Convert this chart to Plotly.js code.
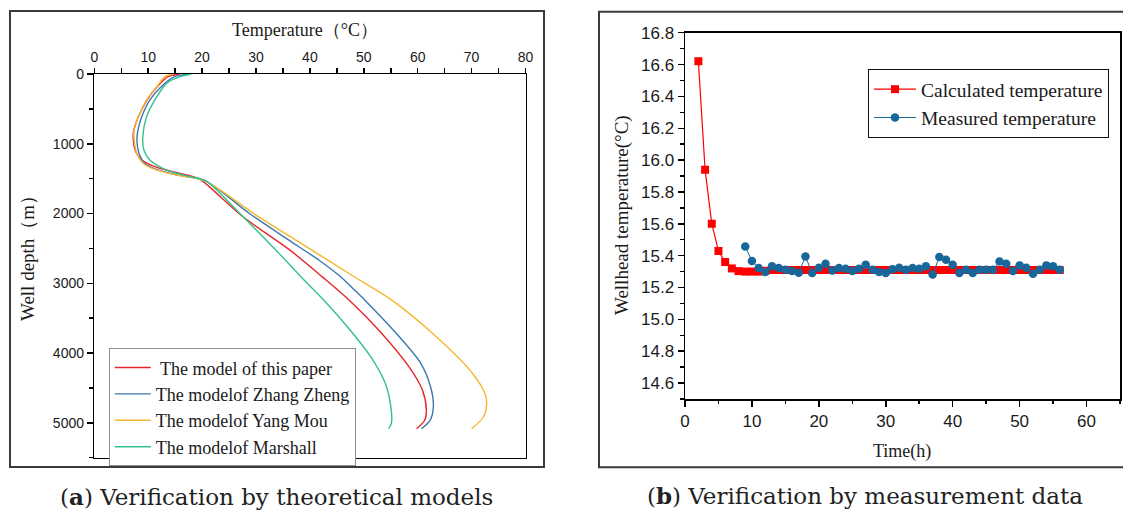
<!DOCTYPE html>
<html>
<head>
<meta charset="utf-8">
<script src="https://cdn.plot.ly/plotly-3.0.1.min.js"></script>
<style>
  html, body { margin: 0; padding: 0; background: #ffffff; }
  #chart { width: 1123px; height: 510px; }
</style>
</head>
<body>
<div id="chart"></div>
<script>
// ---- (a) wellbore temperature profiles, four models ----
const depthPaper = [0, 40, 180, 370, 610, 800, 900, 1115, 1234, 1339, 1425, 1497, 1607, 2047, 2525, 2908, 3242, 3673, 4199, 4534, 4821, 4964, 5084];
const tempPaper  = [15.8, 13.6, 11.7, 9.8, 8.2, 7.35, 7.2, 7.7, 8.8, 11.6, 15.9, 19.3, 21.2, 27.6, 36.3, 42.3, 47.3, 52.8, 58.4, 60.9, 61.6, 61.3, 59.8];

const depthZhang = [0, 38, 182, 373, 612, 803, 947, 1138, 1282, 1377, 1449, 1531, 2000, 2382, 2669, 2900, 3099, 3242, 3673, 4150, 4486, 4773, 4964, 5084];
const tempZhang  = [17.6, 14.9, 12.4, 10.3, 8.8, 8.1, 7.9, 8.3, 9.4, 11.9, 15.5, 20.6, 28.8, 36.1, 41.7, 45.6, 48.3, 50.2, 55.5, 60.6, 62.4, 62.9, 62.3, 60.7];

const depthYang = [0, 38, 182, 373, 612, 803, 947, 1138, 1282, 1377, 1449, 1531, 2022, 2478, 2895, 3242, 3769, 4247, 4582, 4725, 4917, 5084];
const tempYang  = [14.5, 13.1, 11.6, 9.7, 8.2, 7.4, 7.4, 7.9, 9.1, 11.6, 15.3, 20.5, 30.0, 39.4, 48.0, 55.2, 63.5, 69.7, 72.5, 72.8, 72.2, 70.0];

const depthMarshall = [0, 38, 134, 326, 612, 900, 1090, 1234, 1377, 1473, 1531, 2047, 2500, 3000, 3242, 3673, 4056, 4438, 4821, 5012, 5084];
const tempMarshall  = [18.0, 15.9, 13.4, 11.6, 9.7, 9.0, 9.2, 10.3, 13.4, 17.8, 20.7, 27.6, 33.4, 39.5, 42.6, 47.5, 51.3, 54.0, 55.1, 55.1, 54.6];

const depthTicks = [0, 1000, 2000, 3000, 4000, 5000];
const tempTicks  = [0, 10, 20, 30, 40, 50, 60, 70, 80];

// ---- (b) wellhead temperature over time ----
const calcTime = [2, 3, 4, 5, 6, 7, 8, 9, 10, 11, 12, 13, 14, 15, 16, 17, 18, 19, 20, 21, 22, 23, 24, 25, 26, 27, 28, 29, 30, 31, 32, 33, 34, 35, 36, 37, 38, 39, 40, 41, 42, 43, 44, 45, 46, 47, 48, 49, 50, 51, 52, 53, 54, 55, 56];
const calcTemp = [16.62, 15.94, 15.60, 15.43, 15.36, 15.32, 15.303, 15.30, 15.30, 15.30, 15.305, 15.31, 15.31, 15.31, 15.31, 15.31, 15.31, 15.31, 15.31, 15.31, 15.31, 15.31, 15.31, 15.31, 15.31, 15.31, 15.31, 15.31, 15.31, 15.31, 15.31, 15.31, 15.31, 15.31, 15.31, 15.31, 15.31, 15.31, 15.31, 15.31, 15.31, 15.31, 15.31, 15.31, 15.31, 15.31, 15.31, 15.31, 15.31, 15.31, 15.31, 15.31, 15.31, 15.31, 15.31];

const measTime = [9, 10, 11, 12, 13, 14, 15, 16, 17, 18, 19, 20, 21, 22, 23, 24, 25, 26, 27, 28, 29, 30, 31, 32, 33, 34, 35, 36, 37, 38, 39, 40, 41, 42, 43, 44, 45, 46, 47, 48, 49, 50, 51, 52, 53, 54, 55, 56];
const measTemp = [15.458, 15.366, 15.322, 15.297, 15.333, 15.322, 15.312, 15.303, 15.293, 15.395, 15.291, 15.324, 15.349, 15.307, 15.322, 15.318, 15.303, 15.318, 15.343, 15.312, 15.297, 15.291, 15.314, 15.324, 15.312, 15.322, 15.318, 15.333, 15.282, 15.391, 15.374, 15.343, 15.291, 15.312, 15.291, 15.312, 15.312, 15.312, 15.364, 15.349, 15.303, 15.339, 15.324, 15.286, 15.312, 15.339, 15.333, 15.312];

// page size and pixel -> paper helpers
const W = 1123, H = 510;
const px = v => v / W;
const py = v => 1 - v / H;

const serif = 'Liberation Serif, Times New Roman, serif';
const sans = 'Liberation Sans, Arial, sans-serif';
const ink = '#1a1a1a';

function profile(name, t, d, color) {
  return {
    type: 'scatter', mode: 'lines', name: name,
    x: t, y: d, xaxis: 'x', yaxis: 'y', legend: 'legend',
    line: { color: color, width: 1.4, shape: 'spline', smoothing: 0.8 },
    hoverinfo: 'x+y'
  };
}

const traces = [
  profile(' The model of this paper', tempPaper, depthPaper, '#e8262b'),
  profile('The modelof Zhang Zheng', tempZhang, depthZhang, '#3c78ad'),
  profile('The modelof Yang Mou', tempYang, depthYang, '#f5b731'),
  profile('The modelof Marshall', tempMarshall, depthMarshall, '#33c18d'),
  {
    type: 'scatter', mode: 'lines+markers', name: 'Calculated temperature',
    x: calcTime, y: calcTemp, xaxis: 'x2', yaxis: 'y2', legend: 'legend2',
    line: { color: '#ff0000', width: 1.2 },
    marker: { symbol: 'square', size: 8, color: '#ff0000', line: { width: 0 } }
  },
  {
    type: 'scatter', mode: 'lines+markers', name: 'Measured temperature',
    x: measTime, y: measTemp, xaxis: 'x2', yaxis: 'y2', legend: 'legend2',
    line: { color: '#17679b', width: 1 },
    marker: { symbol: 'circle', size: 8.5, color: '#17679b', line: { width: 0 } }
  }
];

const axisBase = {
  showline: true, mirror: true, linecolor: '#000', linewidth: 1.5,
  showgrid: false, zeroline: false, fixedrange: true
};

const layout = {
  width: W, height: H,
  margin: { l: 0, r: 0, t: 0, b: 0 },
  paper_bgcolor: '#ffffff', plot_bgcolor: '#ffffff',
  showlegend: true,
  xaxis: Object.assign({}, axisBase, {
    domain: [px(94.3), px(525.5)], range: [0, 80], side: 'top', anchor: 'y',
    tickmode: 'array', tickvals: tempTicks,
    ticks: 'outside', ticklen: 5, tickcolor: 'rgba(0,0,0,0)',
    minor: { ticks: 'outside', dtick: 5, ticklen: 5, tickwidth: 1.5, tickcolor: '#000', showgrid: false },
    tickfont: { family: sans, size: 14, color: ink }
  }),
  yaxis: Object.assign({}, axisBase, {
    domain: [py(457.7), py(74)], range: [5500, 0], anchor: 'x',
    tickmode: 'array', tickvals: depthTicks,
    ticks: 'outside', ticklen: 6, tickwidth: 1.5, tickcolor: '#000',
    minor: { ticks: 'outside', dtick: 500, ticklen: 4, tickwidth: 1.5, tickcolor: '#000', showgrid: false },
    tickfont: { family: sans, size: 14, color: ink }
  }),
  xaxis2: Object.assign({}, axisBase, {
    domain: [px(685), px(1120)], range: [0, 65], anchor: 'y2',
    tickmode: 'linear', tick0: 0, dtick: 10,
    ticks: 'outside', ticklen: 6, tickwidth: 1.5, tickcolor: '#000',
    minor: { ticks: 'outside', dtick: 5, ticklen: 3.5, tickwidth: 1.5, tickcolor: '#000', showgrid: false },
    tickfont: { family: sans, size: 17, color: ink }
  }),
  yaxis2: Object.assign({}, axisBase, {
    domain: [py(399), py(32.7)], range: [14.5, 16.8], anchor: 'x2',
    tickmode: 'linear', tick0: 0, dtick: 0.2, tickformat: '.1f',
    ticks: 'outside', ticklen: 6, tickwidth: 1.5, tickcolor: '#000',
    minor: { ticks: 'outside', dtick: 0.1, ticklen: 3.5, tickwidth: 1.5, tickcolor: '#000', showgrid: false },
    tickfont: { family: sans, size: 17, color: ink }
  }),
  legend: {
    x: px(108.8), y: py(348.3), xanchor: 'left', yanchor: 'top',
    bgcolor: '#ffffff', bordercolor: '#8f8f8f', borderwidth: 1,
    font: { family: serif, size: 18, color: ink },
    itemwidth: 36, tracegroupgap: 0
  },
  legend2: {
    x: px(868), y: py(69), xanchor: 'left', yanchor: 'top',
    bgcolor: '#ffffff', bordercolor: '#111', borderwidth: 1,
    font: { family: serif, size: 19.5, color: ink },
    itemwidth: 42, tracegroupgap: 0
  },
  shapes: [
    // panel frames
    { type: 'rect', xref: 'paper', yref: 'paper', x0: px(10), x1: px(544), y0: py(467), y1: py(11),
      line: { color: '#3a3a3a', width: 2 } },
    { type: 'rect', xref: 'paper', yref: 'paper', x0: px(599), x1: px(1125), y0: py(467.3), y1: py(11.7),
      line: { color: '#3a3a3a', width: 2 } }
  ],
  annotations: [
    { text: 'Temperature（°C）', xref: 'paper', yref: 'paper', x: px(305), y: py(30),
      xanchor: 'center', yanchor: 'middle', showarrow: false,
      font: { family: serif, size: 18, color: ink } },
    { text: 'Well depth（m）', xref: 'paper', yref: 'paper', x: px(27), y: py(254),
      xanchor: 'center', yanchor: 'middle', textangle: -90, showarrow: false,
      font: { family: serif, size: 19, color: ink } },
    { text: 'Time(h)', xref: 'paper', yref: 'paper', x: px(902), y: py(451.7),
      xanchor: 'center', yanchor: 'middle', showarrow: false,
      font: { family: serif, size: 18, color: ink } },
    { text: 'Wellhead temperature(°C)', xref: 'paper', yref: 'paper', x: px(622), y: py(215),
      xanchor: 'center', yanchor: 'middle', textangle: -90, showarrow: false,
      font: { family: serif, size: 19, color: ink } },
    { text: '(<b>a</b>) Verification by theoretical models', xref: 'paper', yref: 'paper', x: px(276), y: py(496),
      xanchor: 'center', yanchor: 'middle', showarrow: false,
      font: { family: 'DejaVu Serif, serif', size: 23, color: '#222' } },
    { text: '(<b>b</b>) Verification by measurement data', xref: 'paper', yref: 'paper', x: px(865), y: py(495),
      xanchor: 'center', yanchor: 'middle', showarrow: false,
      font: { family: 'DejaVu Serif, serif', size: 23, color: '#222' } }
  ]
};

Plotly.newPlot('chart', traces, layout, { displayModeBar: false, staticPlot: true });
</script>
</body>
</html>
